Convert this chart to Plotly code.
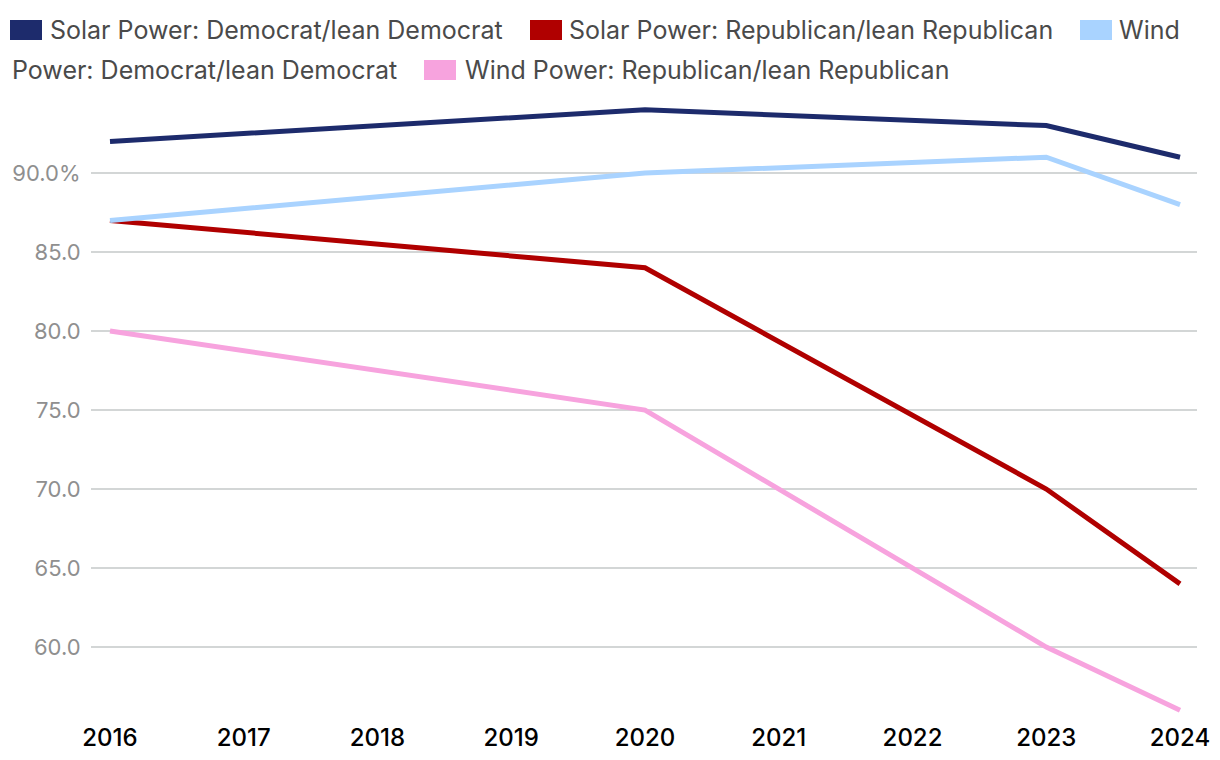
import plotly.graph_objects as go

years = [2016, 2020, 2023, 2024]
solar_dem = [92, 94, 93, 91]
solar_rep = [87, 84, 70, 64]
wind_dem = [87, 90, 91, 88]
wind_rep = [80, 75, 60, 56]

series_names = [
    "Solar Power: Democrat/lean Democrat",
    "Solar Power: Republican/lean Republican",
    "Wind Power: Democrat/lean Democrat",
    "Wind Power: Republican/lean Republican",
]
series_values = [solar_dem, solar_rep, wind_dem, wind_rep]
colors = ["#1d2b6c", "#b00000", "#a9d3ff", "#f7a3de"]

x_ticks = list(range(2016, 2025))
y_ticks = [60, 65, 70, 75, 80, 85, 90]
y_ticktext = ["60.0", "65.0", "70.0", "75.0", "80.0", "85.0", "90.0%"]

# page has an 8px body margin; figure coordinates = page coordinates - 8
OFF = 8
W, H = 1220 - OFF, 760 - OFF
L, R, T, B = 91 - OFF, 23, 100 - OFF, 45
PW = W - L - R
PH = H - T - B

fig = go.Figure()
for name, vals, col in zip(series_names, series_values, colors):
    fig.add_trace(go.Scatter(
        x=years, y=vals, name=name, mode="lines",
        line=dict(color=col, width=5), showlegend=False,
    ))

def px_x(px):
    return (px - OFF - L) / PW

def px_y(py):
    return 1 - (py - OFF - T) / PH

text_color = "#4a4a4a"
font_family = "Inter, Lato, sans-serif"
# legend drawn as swatches + text (wraps mid-label like the reference)
legend_items = [
    (10, 30, 48, "Solar Power: Democrat/lean Democrat", colors[0]),
    (530, 30, 567, "Solar Power: Republican/lean Republican", colors[1]),
    (1080, 30, 1117, "Wind", colors[2]),
    (None, 70, 10, "Power: Democrat/lean Democrat", None),
    (424, 70, 463, "Wind Power: Republican/lean Republican", colors[3]),
]
shapes = []
annotations = []
for sx, cy, tx, txt, col in legend_items:
    if sx is not None:
        shapes.append(dict(
            type="rect", xref="paper", yref="paper",
            x0=px_x(sx), x1=px_x(sx + 32), y0=px_y(cy + 10), y1=px_y(cy - 10),
            fillcolor=col, line=dict(width=0),
        ))
    annotations.append(dict(
        xref="paper", yref="paper", x=px_x(tx), y=px_y(cy),
        xanchor="left", yanchor="middle", text=txt, showarrow=False,
        font=dict(size=25, color=text_color, family=font_family),
    ))

fig.update_layout(
    width=W, height=H,
    margin=dict(l=L, r=R, t=T, b=B, autoexpand=False),
    paper_bgcolor="white", plot_bgcolor="white",
    shapes=shapes, annotations=annotations,
    font=dict(family=font_family),
    xaxis=dict(
        range=[2015.858, 2024.127], tickvals=x_ticks,
        ticktext=[str(v) for v in x_ticks],
        showgrid=False, zeroline=False, showline=False, automargin=False,
        ticks="outside", ticklen=1, tickcolor="rgba(0,0,0,0)",
        tickfont=dict(size=24, color="#000000", family=font_family, weight=500),
    ),
    yaxis=dict(
        range=[55.7, 94.62], tickvals=y_ticks, ticktext=y_ticktext,
        showgrid=True, gridcolor="#d3d6d6", gridwidth=1.5,
        zeroline=False, showline=False, automargin=False,
        ticks="outside", ticklen=5, tickcolor="rgba(0,0,0,0)",
        tickfont=dict(size=22, color="#8f8f8f", family=font_family),
    ),
)

fig.write_html("out.html")
